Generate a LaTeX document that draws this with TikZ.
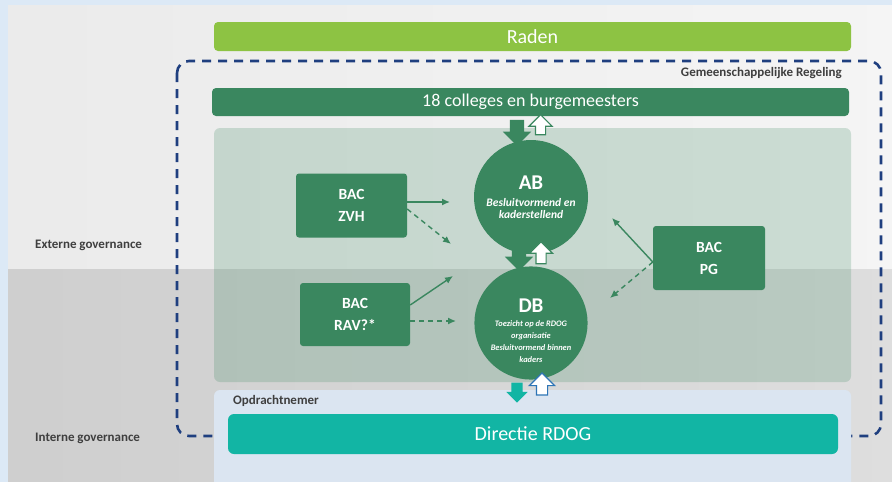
\documentclass[tikz,border=0pt]{standalone}
\usepackage{fontspec}
\setmainfont{Carlito}
\usetikzlibrary{shapes.arrows, arrows.meta, calc, positioning}
\definecolor{rdgreen}{HTML}{3A875F}
\definecolor{radengreen}{HTML}{8DC343}
\definecolor{rdteal}{HTML}{12B5A4}
\definecolor{rdblue}{HTML}{1F3F7F}
\definecolor{outlineblue}{HTML}{2E75B6}
\definecolor{panelblue}{HTML}{DBE5F1}
\definecolor{frameblue}{HTML}{DCE9F6}
\definecolor{labelgray}{HTML}{3F3F3F}
\newcommand{\abtekst}{\itshape\fontsize{11.5}{16}\selectfont}
\newcommand{\dbtekst}{\itshape\fontsize{8.4}{11.5}\selectfont}
\tikzset{
    bar/.style = {rectangle, rounded corners=4pt, text=white, inner sep=0pt}, % long horizontal bars
    bac/.style = {rectangle, rounded corners=3pt, fill=rdgreen, text=white, align=center,
                  font=\bfseries\fontsize{15.5}{22}\selectfont, minimum width=111pt, minimum height=64pt},
    orgaan/.style = {circle, fill=rdgreen, text=white, align=center, inner sep=0pt, font=\bfseries},
    lbl/.style = {font=\bfseries\fontsize{13}{15}\selectfont, text=labelgray, inner sep=0pt},
    pijl/.style = {-{Latex[length=8pt,width=7pt]}, line width=1.4pt, draw=rdgreen},
    pijlstip/.style = {pijl, dash pattern=on 5pt off 4pt},
    blok/.style = {single arrow, single arrow head indent=0pt, inner xsep=0pt, minimum width=0pt},
    omlaag/.style = {blok, rotate=-90, fill=rdgreen},
    omhoog/.style = {blok, rotate=90, fill=white, draw=rdgreen, line width=1.2pt}
}
\begin{document}
\begin{tikzpicture}[x=1pt, y=-1pt]
    \useasboundingbox (0,0) rectangle (892,482);
    \clip (0,0) rectangle (892,482);
    % background bands
    \fill[frameblue] (0,0) rectangle (892,482);
    \shade[left color=black!8, right color=black!4] (8,5) rectangle (892,269);
    \shade[left color=black!19, right color=black!13] (8,269) rectangle (892,482);

    % gemeenschappelijke regeling
    \draw[rdblue, line width=2.6pt, dash pattern=on 9pt off 7pt, rounded corners=12pt] (177,61) rectangle (881,436);

    % panels
    \fill[rdgreen, opacity=0.22, rounded corners=6pt] (214,128) rectangle (851,382);
    \fill[panelblue, rounded corners=6pt] (214,390) rectangle (851,492);

    % text labels
    \node[lbl, anchor=east] (grlabel) at (842,73) {Gemeenschappelijke Regeling};
    \node[lbl, anchor=west] (extern) at (35,245) {Externe governance};
    \node[lbl, anchor=west] (intern) at (35,438) {Interne governance};
    \node[lbl, anchor=west] (opdracht) at (233,401) {Opdrachtnemer};

    % bars
    \node[bar, fill=radengreen, minimum width=637pt, minimum height=29pt, font=\fontsize{20}{22}\selectfont] (raden) at (532.5,36.5) {Raden};
    \node[bar, fill=rdgreen, minimum width=637pt, minimum height=28pt, font=\fontsize{18}{20}\selectfont] (colleges) at (530.5,102) {18 colleges en burgemeesters};
    \node[bar, fill=rdteal, rounded corners=6pt, minimum width=610pt, minimum height=40pt, font=\fontsize{20}{22}\selectfont] (directie) at (533,434) {Directie RDOG};

    % AB and DB
    \node[orgaan, minimum size=114pt] (ab) at (531,197)
        {\fontsize{21}{24}\selectfont AB\\[5pt]
         \abtekst Besluitvormend en\\\abtekst kaderstellend};
    \node[orgaan, minimum size=111pt] (db) at (531,323)
        {\fontsize{21}{24}\selectfont \rule{0pt}{30pt}DB\\[2pt]
         \dbtekst Toezicht op de RDOG\\\dbtekst organisatie\\\dbtekst Besluitvormend binnen\\\dbtekst kaders};

    % BAC boxes
    \node[bac] (zvh) at (351.5,205.5) {BAC\\ZVH};
    \node[bac, minimum width=110pt, minimum height=63pt] (rav) at (355,314.5) {BAC\\RAV?*};
    \node[bac, minimum width=112pt] (pg) at (709,258) {BAC\\PG};

    % block arrows
    \node[omlaag, minimum height=26pt, inner ysep=7pt, single arrow head extend=7pt] (c2ab) at ($(colleges.south)+(-13.5,13)$) {};
    \node[omhoog, minimum height=20pt, inner ysep=4.5pt, single arrow head extend=6.5pt] (ab2c) at ($(colleges.south)+(10,11)$) {};
    \node[omlaag, minimum height=26pt, inner ysep=7pt, single arrow head extend=7pt] (ab2db) at ($(ab.south)+(-12,0)$) {};
    \node[omhoog, minimum height=22pt, inner ysep=4.5pt, single arrow head extend=6.5pt] (db2ab) at ($(db.north)+(10,-11)$) {};
    \node[omlaag, fill=rdteal, minimum height=20pt, inner ysep=5.5pt, single arrow head extend=5pt] (db2dir) at ($(db.south)+(-14,10)$) {};
    \node[omhoog, draw=outlineblue, minimum height=22pt, inner ysep=5pt, single arrow head extend=7pt] (dir2db) at ($(directie.north)+(9,-27)$) {};

    % free ends of the BAC arrows
    \coordinate (zvhA) at (450,202);
    \coordinate (zvhB) at (451,244);
    \coordinate (ravA) at (453,276);
    \coordinate (ravB) at (456,321);
    \coordinate (pgA) at (612,218);
    \coordinate (pgB) at (610,298);

    \draw[pijl] ($(zvh.east)+(0,-3.5)$) -- (zvhA);
    \draw[pijlstip] ($(zvh.east)+(0,3.5)$) -- (zvhB);
    \draw[pijl] ($(rav.east)+(0,-9.5)$) -- (ravA);
    \draw[pijlstip] ($(rav.east)+(0,6.5)$) -- (ravB);
    \draw[pijl] ($(pg.west)+(0,4)$) -- (pgA);
    \draw[pijlstip] ($(pg.west)+(0,4)$) -- (pgB);
\end{tikzpicture}
\end{document}
